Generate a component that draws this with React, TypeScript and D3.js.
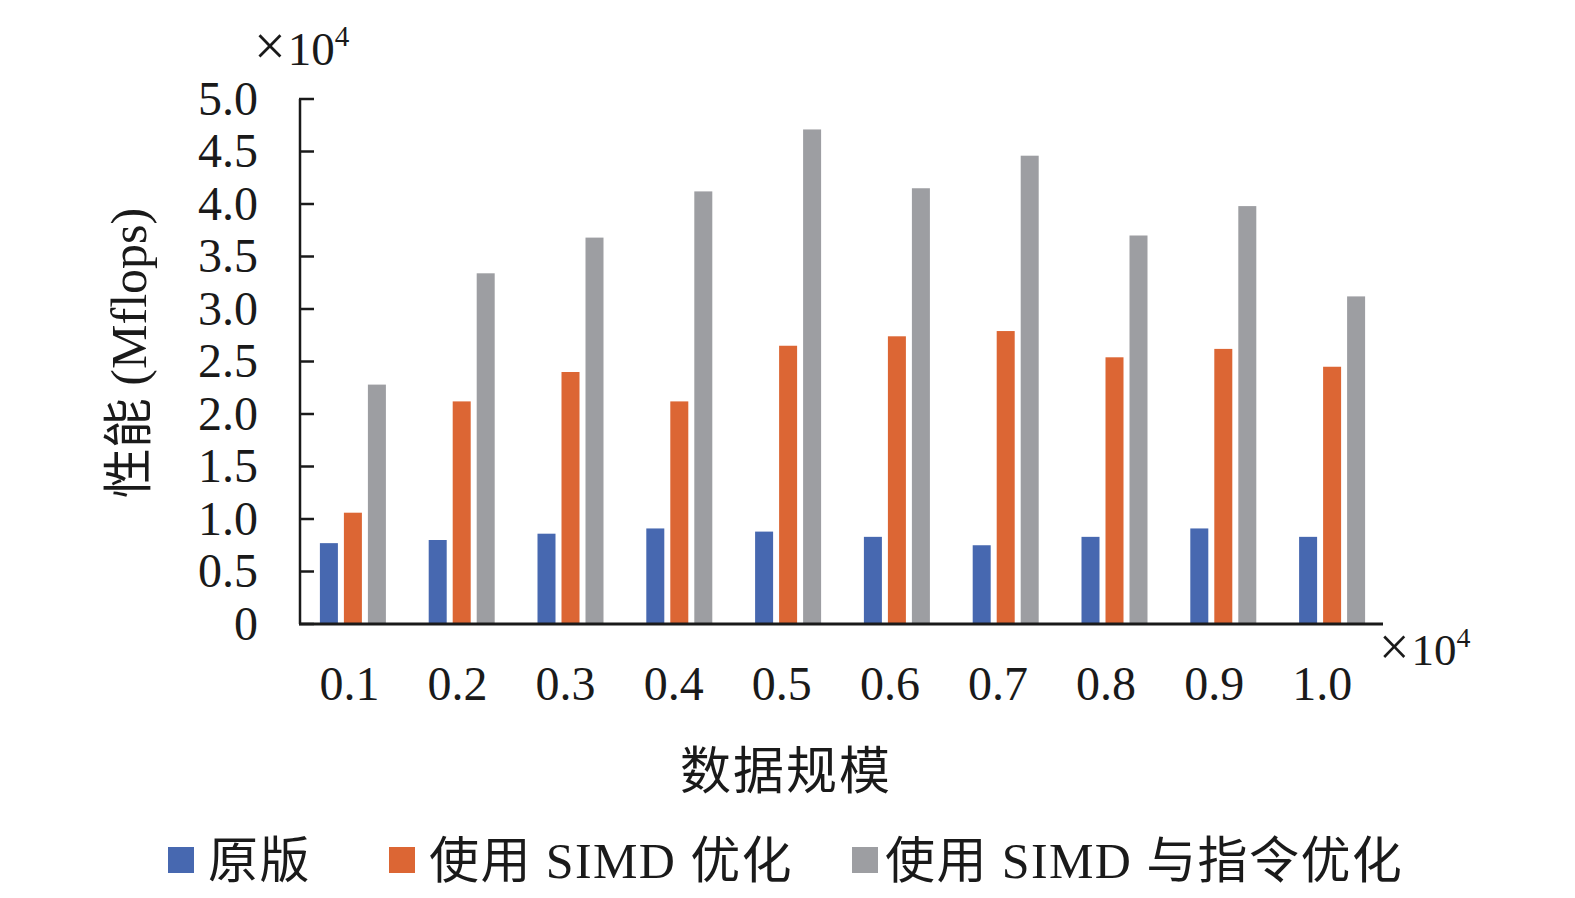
import React, { useRef, useEffect } from "react";
import * as d3 from "d3";

const categories = ["0.1", "0.2", "0.3", "0.4", "0.5", "0.6", "0.7", "0.8", "0.9", "1.0"];
const seriesNames = ["原版", "使用 SIMD 优化", "使用 SIMD 与指令优化"];
const original = [0.77, 0.8, 0.86, 0.91, 0.88, 0.83, 0.75, 0.83, 0.91, 0.83];
const simd = [1.06, 2.12, 2.4, 2.12, 2.65, 2.74, 2.79, 2.54, 2.62, 2.45];
const simdInstr = [2.28, 3.34, 3.68, 4.12, 4.71, 4.15, 4.46, 3.7, 3.98, 3.12];
const yTicks = [0, 0.5, 1, 1.5, 2, 2.5, 3, 3.5, 4, 4.5, 5];
const colors = ["#4768b0", "#dc6634", "#9d9ea2"];

const serif = "'Liberation Serif', 'Times New Roman', serif";
const cjk = "'Liberation Serif', 'Noto Sans CJK SC', serif";

const App: React.FC = () => {
  const ref = useRef<SVGSVGElement | null>(null);

  useEffect(() => {
    if (!ref.current) return;
    const svg = d3.select(ref.current);
    svg.selectAll("*").remove();

    const left = 300, right = 1388, top = 99, bottom = 624;
    const series = [original, simd, simdInstr];

    const x = d3.scaleBand().domain(categories).range([left, right]).padding(0);
    const y = d3.scaleLinear().domain([0, 5]).range([bottom, top]);
    const barW = 18;
    const step = 24;

    // bars
    series.forEach((vals, si) => {
      svg.append("g")
        .selectAll("rect")
        .data(vals)
        .join("rect")
        .attr("x", (_, i) => x(categories[i])! + x.bandwidth() / 2 + (si - 1) * step - barW / 2 - 1.5)
        .attr("y", (d) => y(d))
        .attr("width", barW)
        .attr("height", (d) => bottom - y(d))
        .attr("fill", colors[si]);
    });

    // y axis
    const yAxis = svg.append("g");
    yAxis.append("line")
      .attr("x1", left).attr("x2", left)
      .attr("y1", top).attr("y2", bottom)
      .attr("stroke", "#1a1a1a").attr("stroke-width", 2.5);
    yAxis.selectAll("line.tick")
      .data(yTicks)
      .join("line")
      .attr("class", "tick")
      .attr("x1", left - 1).attr("x2", left + 14)
      .attr("y1", (d) => y(d)).attr("y2", (d) => y(d))
      .attr("stroke", "#1a1a1a").attr("stroke-width", 2.5);
    yAxis.selectAll("text")
      .data(yTicks)
      .join("text")
      .attr("x", 258)
      .attr("y", (d) => y(d))
      .attr("dy", "0.33em")
      .attr("text-anchor", "end")
      .style("font-family", serif)
      .style("font-size", "48px")
      .attr("fill", "#1a1a1a")
      .text((d) => (d === 0 ? "0" : d3.format(".1f")(d)));

    // x axis
    svg.append("line")
      .attr("x1", left - 1).attr("x2", 1383)
      .attr("y1", bottom).attr("y2", bottom)
      .attr("stroke", "#1a1a1a").attr("stroke-width", 3);
    svg.append("g")
      .selectAll("text")
      .data(categories)
      .join("text")
      .attr("x", (d, i) => x(d)! + x.bandwidth() / 2 - 5 - i * 0.7)
      .attr("y", 700)
      .attr("text-anchor", "middle")
      .style("font-family", serif)
      .style("font-size", "48px")
      .attr("fill", "#1a1a1a")
      .text((d) => d);

    // multipliers
    const mult = (tx: number, ty: number, size: number) => {
      const t = svg.append("text")
        .attr("x", tx).attr("y", ty)
        .style("font-family", serif)
        .style("font-size", `${size}px`)
        .attr("fill", "#1a1a1a");
      t.append("tspan").style("font-size", `${size * 1.2}px`).text("×");
      t.append("tspan").attr("dx", 2).text("10");
      t.append("tspan").attr("dy", -size * 0.4).style("font-size", `${size * 0.62}px`).text("4");
    };
    mult(254, 65, 47);
    mult(1379, 665, 45);

    // axis titles
    svg.append("text")
      .attr("transform", "translate(146,353) rotate(-90)")
      .attr("text-anchor", "middle")
      .style("font-family", cjk)
      .style("font-size", "50px")
      .attr("fill", "#1a1a1a")
      .text("性能 (Mflops)");
    svg.append("text")
      .attr("x", 786).attr("y", 789)
      .attr("text-anchor", "middle")
      .style("font-family", cjk)
      .style("font-size", "51px")
      .style("letter-spacing", "2px")
      .attr("fill", "#1a1a1a")
      .text("数据规模");

    // legend
    const legendX = [168, 389, 852];
    const lg = svg.append("g")
      .selectAll("g")
      .data(seriesNames)
      .join("g")
      .attr("transform", (_, i) => `translate(${legendX[i]},860)`);
    lg.append("rect")
      .attr("x", 0).attr("y", -13)
      .attr("width", 26).attr("height", 26)
      .attr("fill", (_, i) => colors[i]);
    lg.append("text")
      .attr("x", (_, i) => (i === 2 ? 33 : 40))
      .attr("y", 0)
      .attr("dy", "0.36em")
      .style("font-family", cjk)
      .style("font-size", "50px")
      .style("letter-spacing", "1.4px")
      .attr("fill", "#1a1a1a")
      .text((d) => d);
  }, []);

  return (
    <svg
      ref={ref}
      width={1575}
      height={898}
      style={{ position: "absolute", left: 0, top: 0, display: "block", background: "#fff" }}
    />
  );
};

export default App;
